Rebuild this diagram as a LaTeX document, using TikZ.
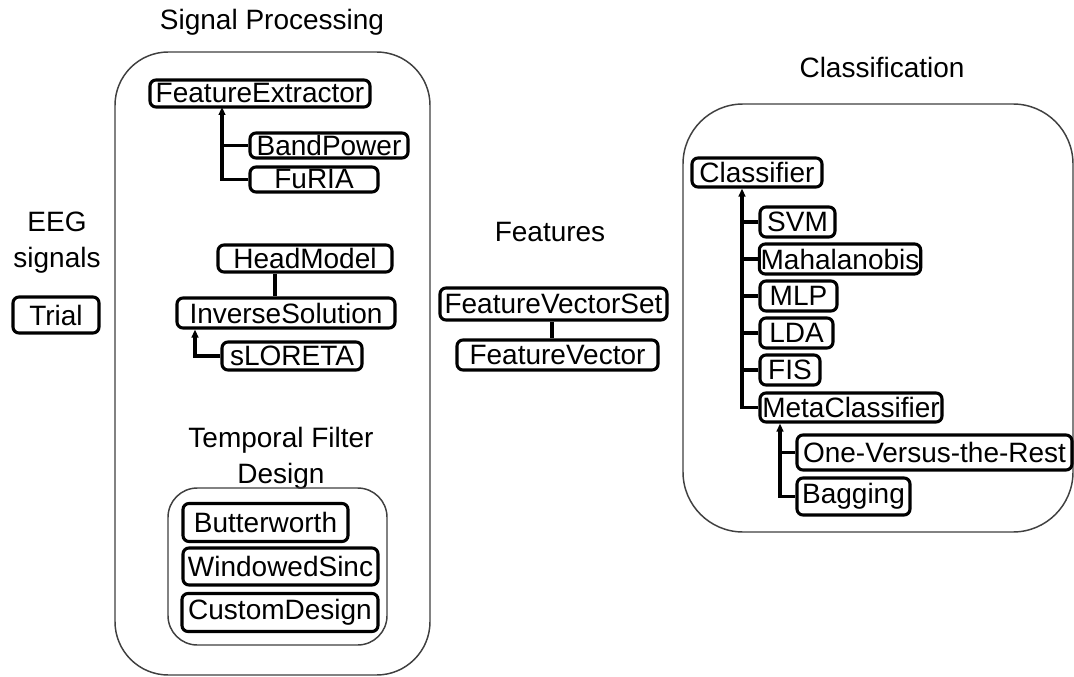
\documentclass[tikz,border=0pt]{standalone}
\usepackage{fontspec}
\setmainfont{Liberation Sans}
\usetikzlibrary{arrows.meta}
\newcommand\lblfont{\fontsize{21}{27}\selectfont}
\tikzset{
  cls/.style={draw, line width=2.3pt, rounded corners=4.5pt, inner sep=1pt, font=\lblfont},
  grp/.style={draw=black!75, line width=1.1pt},
  ttl/.style={font=\lblfont, align=center, inner sep=0pt},
  lnk/.style={line width=2.3pt},
  arr/.style={line width=2.3pt, -{Triangle[length=6pt,width=5pt]}},
  wh/.style 2 args={minimum width=#1*0.75pt, minimum height=#2*0.75pt},
}
\begin{document}
\begin{tikzpicture}[x=0.75pt,y=-0.75pt]
\useasboundingbox (0,0) rectangle (1074,677);
\fill[white] (0,0) rectangle (1074,677);

% titles
\node[ttl] (tSP) at (272,22) {Signal Processing};
\node[ttl] (tEEG) at (57,243) {EEG\\signals};
\node[ttl] (tFeat) at (550,232) {Features};
\node[ttl] (tCls) at (882,67) {Classification};
\node[ttl] (tTFD) at (281,458) {Temporal Filter\\Design};

% group frames
\draw[grp, rounded corners=40pt] (115,52) rectangle (430,675);
\draw[grp, rounded corners=22pt] (168,488) rectangle (387,645);
\draw[grp, rounded corners=45pt] (683,104) rectangle (1073,532);

% EEG
\node[cls, wh={86}{36}] (Trial) at (56,315) {Trial};

% Signal processing
\node[cls, wh={220}{27}] (FeatureExtractor) at (260,93.5) {FeatureExtractor};
\node[cls, wh={158}{25}] (BandPower) at (329,145.5) {BandPower};
\node[cls, wh={128}{25}] (FuRIA) at (314,179.5) {FuRIA};
\node[cls, wh={174}{27}] (HeadModel) at (305,258.5) {HeadModel};
\node[cls, wh={218}{30}] (InverseSolution) at (286,313) {InverseSolution};
\node[cls, wh={140}{28}] (sLORETA) at (292,356) {sLORETA};
\node[cls, wh={165}{38}] (Butterworth) at (265.5,522.5) {Butterworth};
\node[cls, wh={195}{37}] (WindowedSinc) at (280.5,566.5) {WindowedSinc};
\node[cls, wh={196}{38}] (CustomDesign) at (280,612.5) {CustomDesign};

\coordinate (trunkA) at (222,107);
\coordinate (hmLink) at (275,0);
\coordinate (trunkB) at (195,0);
\draw[arr] (FuRIA.west) -| (trunkA);
\draw[lnk] (BandPower.west) -- (BandPower.west -| trunkA);
\draw[lnk] (HeadModel.south -| hmLink) -- (InverseSolution.north -| hmLink);
\draw[arr] (sLORETA.west) -| (InverseSolution.south -| trunkB);

% Features
\node[cls, wh={227}{32}] (FeatureVectorSet) at (553.5,304) {FeatureVectorSet};
\node[cls, wh={201}{30}] (FeatureVector) at (557.5,355) {FeatureVector};
\coordinate (fvLink) at (552,0);
\draw[lnk] (FeatureVectorSet.south -| fvLink) -- (FeatureVector.north -| fvLink);

% Classification
\node[cls, wh={130}{29}] (Classifier) at (757,172.5) {Classifier};
\node[cls, wh={75}{30}] (SVM) at (797.5,222) {SVM};
\node[cls, wh={160}{30}] (Mahalanobis) at (840,259) {Mahalanobis};
\node[cls, wh={77}{30}] (MLP) at (798.5,296) {MLP};
\node[cls, wh={73}{30}] (LDA) at (796.5,333) {LDA};
\node[cls, wh={60}{30}] (FIS) at (790,370) {FIS};
\node[cls, wh={182}{29}] (MetaClassifier) at (851,407.5) {MetaClassifier};
\node[cls, wh={275}{35}] (OVR) at (934.5,452.5) {One-Versus-the-Rest};
\node[cls, wh={113}{37}] (Bagging) at (853.5,496.5) {Bagging};

\coordinate (trunkC) at (742,0);
\coordinate (trunkD) at (780,0);
\draw[arr] (MetaClassifier.west) -| (Classifier.south -| trunkC);
\foreach \n in {SVM,Mahalanobis,MLP,LDA,FIS}
  \draw[lnk] (\n.west) -- (\n.west -| trunkC);
\draw[arr] (Bagging.west) -| (MetaClassifier.south -| trunkD);
\draw[lnk] (OVR.west) -- (OVR.west -| trunkD);
\end{tikzpicture}
\end{document}
